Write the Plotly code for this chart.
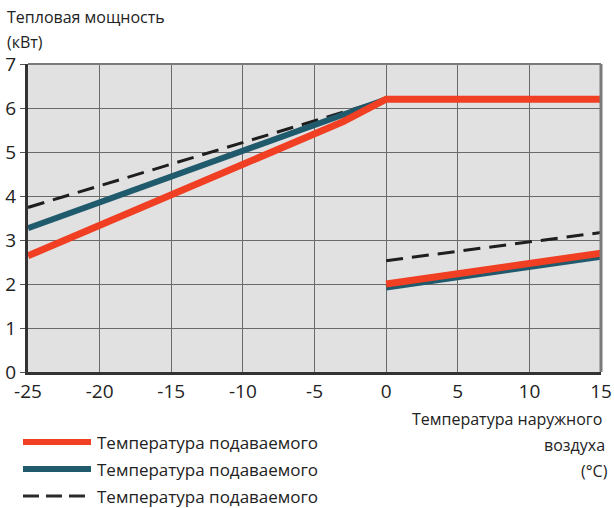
import plotly.graph_objects as go

# ---- data ----
x_ticks = [-25, -20, -15, -10, -5, 0, 5, 10, 15]
y_ticks = [0, 1, 2, 3, 4, 5, 6, 7]

red_x = [-25, -3, 0, 15, None, 0, 15]
red_y = [2.64, 5.69, 6.2, 6.2, None, 2.0, 2.7]

blue_x = [-25, -3, 0, None, 0, 15]
blue_y = [3.27, 5.82, 6.2, None, 1.92, 2.62]

dash_x = [-25, 0, None, 0, 15]
dash_y = [3.74, 6.2, None, 2.53, 3.17]

legend_names = ["Температура подаваемого", "Температура подаваемого", "Температура подаваемого"]
y_title = ["Тепловая мощность", "(кВт)"]
x_title = ["Температура наружного", "воздуха", "(°C)"]

RED = "#f03f22"
BLUE = "#205a6d"
DARK = "#1e1e1e"
FONT = "Open Sans"

fig = go.Figure()
fig.add_trace(go.Scatter(x=dash_x, y=dash_y, mode="lines",
                         line=dict(color=DARK, width=3, dash="17px,9px"),
                         name=legend_names[2], showlegend=False))
fig.add_trace(go.Scatter(x=blue_x, y=blue_y, mode="lines",
                         line=dict(color=BLUE, width=6),
                         name=legend_names[1], showlegend=False))
fig.add_trace(go.Scatter(x=red_x, y=red_y, mode="lines",
                         line=dict(color=RED, width=7),
                         name=legend_names[0], showlegend=False))

W, H = 614, 508
ml, mr, mt, mb = 28, 13, 64, 136

fig.update_layout(
    width=W, height=H,
    margin=dict(l=ml, r=mr, t=mt, b=mb, autoexpand=False),
    paper_bgcolor="white",
    plot_bgcolor="#e1e1e1",
    font=dict(family=FONT, color="#222222"),
    showlegend=False,
)
fig.update_xaxes(range=[-25, 15], tickvals=x_ticks, ticktext=[str(v) for v in x_ticks],
                 showgrid=True, gridcolor="#6a6a6a", gridwidth=1, automargin=False,
                 zeroline=False, showline=True, linecolor="#333333", linewidth=3,
                 ticks="", tickfont=dict(size=19, color="#222222", family=FONT))
fig.update_yaxes(range=[0, 7], tickvals=y_ticks, ticktext=[str(v) for v in y_ticks],
                 showgrid=True, gridcolor="#6a6a6a", gridwidth=1, automargin=False,
                 zeroline=False, showline=True, linecolor="#333333", linewidth=3,
                 ticks="outside", ticklen=5, tickcolor="#555555",
                 tickfont=dict(size=19, color="#222222", family=FONT))

# frame on top/right (gray)
fig.add_shape(type="line", xref="paper", yref="paper", x0=0, x1=1, y0=1, y1=1,
              line=dict(color="#7a7a7a", width=2), layer="above")
fig.add_shape(type="line", xref="paper", yref="paper", x0=1, x1=1, y0=0, y1=1,
              line=dict(color="#7a7a7a", width=3), layer="above")

ph = H - mt - mb
def py(pix):
    return (H - mb - pix) / ph
pw = W - ml - mr
def px(pix):
    return (pix - ml) / pw

# y title
for i, t in enumerate(y_title):
    fig.add_annotation(text=t, xref="paper", yref="paper", x=px(5), y=py([17, 42][i]),
                       xanchor="left", yanchor="middle", showarrow=False,
                       font=dict(size=16, color="#222222", family=FONT))
# x title
for i, t in enumerate(x_title):
    fig.add_annotation(text=t, xref="paper", yref="paper", x=px([604, 607, 610][i]),
                       y=py([419, 445, 471][i]),
                       xanchor="right", yanchor="middle", showarrow=False,
                       font=dict(size=16, color="#222222", family=FONT))

# legend
leg_y = [442, 469, 496]
leg_style = [dict(color=RED, width=6), dict(color=BLUE, width=6),
             dict(color="#2a2a2a", width=3, dash="16px,7px")]
for i, name in enumerate(legend_names):
    fig.add_shape(type="line", xref="paper", yref="paper", x0=px(23), x1=px(91),
                  y0=py(leg_y[i]), y1=py(leg_y[i]), line=leg_style[i])
    fig.add_annotation(text=name, xref="paper", yref="paper", x=px(95), y=py(leg_y[i]),
                       xanchor="left", yanchor="middle", showarrow=False,
                       font=dict(size=17, color="#222222", family=FONT))

fig.write_html("out.html", config={"displayModeBar": False},
               post_script="document.body.style.margin='0';document.body.style.overflow='hidden';")
